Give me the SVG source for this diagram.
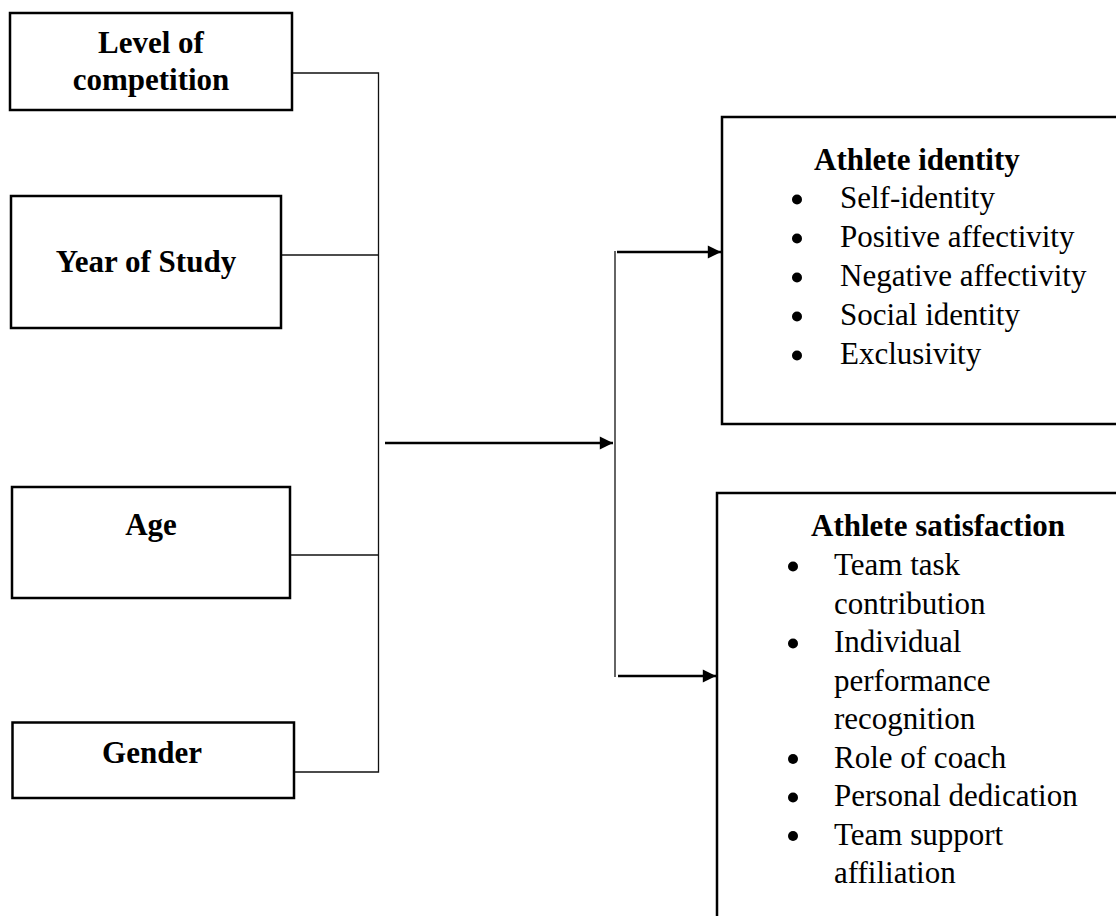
<svg xmlns="http://www.w3.org/2000/svg" width="1116" height="916" viewBox="0 0 1116 916">
<style>
.box{fill:#fff;stroke:#000;stroke-width:2.5}
.lbl{font-family:"Liberation Serif","Times New Roman",serif;font-size:31px;font-weight:bold;fill:#000;text-anchor:middle}
.hd{font-family:"Liberation Serif","Times New Roman",serif;font-size:31px;font-weight:bold;fill:#000}
.it{font-family:"Liberation Serif","Times New Roman",serif;font-size:31px;fill:#000}
.bul{fill:#000}
.thin{fill:none;stroke:#111;stroke-width:1.3}
.arr{fill:none;stroke:#000;stroke-width:2.4}
</style>
<defs>
<marker id="ah" viewBox="0 0 10 10" refX="10" refY="5" markerWidth="6.5" markerHeight="5.5" markerUnits="strokeWidth" orient="auto">
<path d="M0,0 L10,5 L0,10 Z" fill="#000"/>
</marker>
</defs>
<rect width="1116" height="916" fill="#fff"/>
<g id="n-level">
<rect class="box" x="10" y="13" width="282" height="97"/>
<text class="lbl" x="151" y="53">Level of</text>
<text class="lbl" x="151" y="90">competition</text>
</g>
<g id="n-year">
<rect class="box" x="11" y="196" width="270" height="132"/>
<text class="lbl" x="146" y="272">Year of Study</text>
</g>
<g id="n-age">
<rect class="box" x="12" y="487" width="278" height="111"/>
<text class="lbl" x="151" y="535">Age</text>
</g>
<g id="n-gender">
<rect class="box" x="12.5" y="722.5" width="281.5" height="75.5"/>
<text class="lbl" x="152" y="763">Gender</text>
</g>
<g id="n-identity">
<rect class="box" x="722" y="117" width="400" height="307"/>
<text class="hd" x="814" y="170">Athlete identity</text>
<circle class="bul" cx="797" cy="199.5" r="5"/><text class="it" x="840" y="208">Self-identity</text>
<circle class="bul" cx="797" cy="238.5" r="5"/><text class="it" x="840" y="247">Positive affectivity</text>
<circle class="bul" cx="797" cy="277.5" r="5"/><text class="it" x="840" y="286">Negative affectivity</text>
<circle class="bul" cx="797" cy="316.5" r="5"/><text class="it" x="840" y="325">Social identity</text>
<circle class="bul" cx="797" cy="355.5" r="5"/><text class="it" x="840" y="364">Exclusivity</text>
</g>
<g id="n-satisfaction">
<rect class="box" x="717" y="493" width="410" height="440"/>
<text class="hd" x="811" y="536">Athlete satisfaction</text>
<circle class="bul" cx="793" cy="566.5" r="5"/><text class="it" x="834" y="575">Team task</text>
<text class="it" x="834" y="613.5">contribution</text>
<circle class="bul" cx="793" cy="643.5" r="5"/><text class="it" x="834" y="652">Individual</text>
<text class="it" x="834" y="690.5">performance</text>
<text class="it" x="834" y="729">recognition</text>
<circle class="bul" cx="793" cy="759" r="5"/><text class="it" x="834" y="767.5">Role of coach</text>
<circle class="bul" cx="793" cy="797.5" r="5"/><text class="it" x="834" y="806">Personal dedication</text>
<circle class="bul" cx="793" cy="836" r="5"/><text class="it" x="834" y="844.5">Team support</text>
<text class="it" x="834" y="883">affiliation</text>
</g>
<g id="connectors">
<path class="thin" d="M293,73 H378.5 V772 H295"/>
<path class="thin" d="M282,255 H378.5"/>
<path class="thin" d="M291,555 H378.5"/>
<path class="thin" d="M615,251 V677"/>
<path class="arr" d="M385,443 H613" marker-end="url(#ah)"/>
<path class="arr" d="M617,252 H721" marker-end="url(#ah)"/>
<path class="arr" d="M618,676 H716" marker-end="url(#ah)"/>
</g>
</svg>
